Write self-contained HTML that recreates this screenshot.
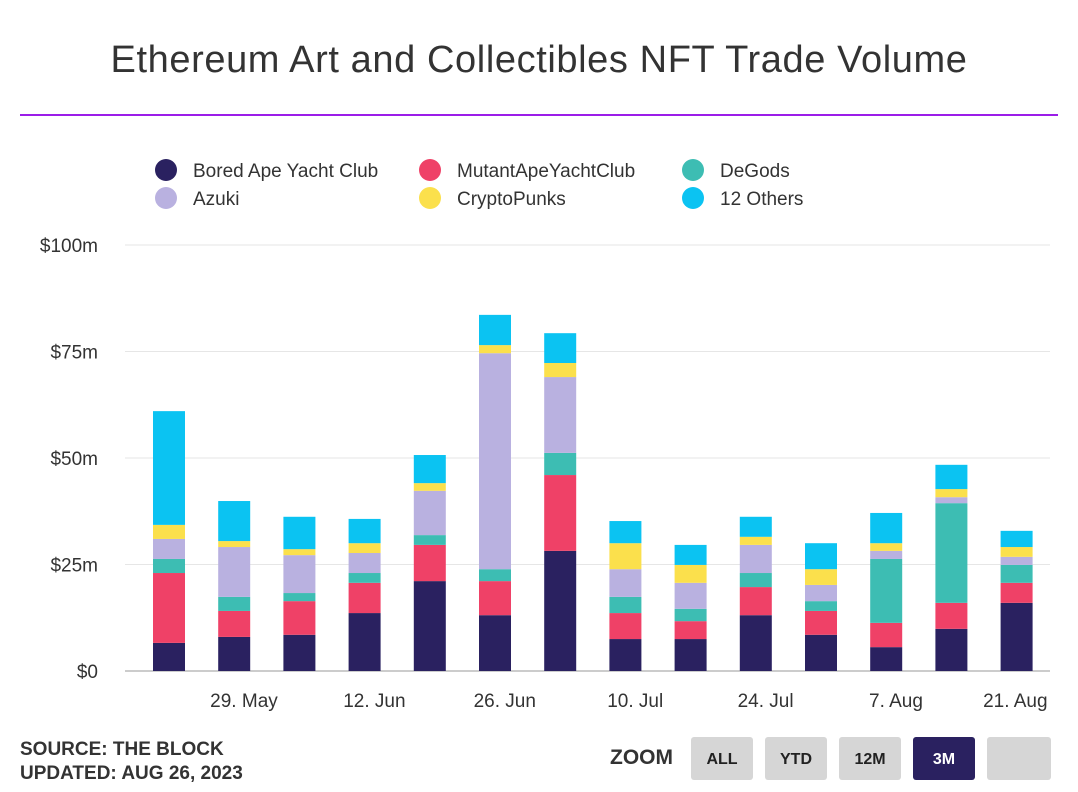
<!DOCTYPE html>
<html><head><meta charset="utf-8">
<style>
body{margin:0;width:1078px;height:792px;background:#fff;font-family:"Liberation Sans",sans-serif;overflow:hidden;position:relative}
.title{position:absolute;left:0;width:1078px;top:39px;text-align:center;font-size:38px;letter-spacing:0.6px;color:#333}
.rule{position:absolute;left:20px;width:1038px;top:114px;height:2px;background:#9b1de8}
.btn{position:absolute;top:737px;height:43px;border-radius:3px;background:#d6d6d6;font-weight:bold;font-size:16px;color:#222;text-align:center;line-height:46px}
</style></head><body>
<div class="title">Ethereum Art and Collectibles NFT Trade Volume</div>
<div class="rule"></div>
<svg id="chart" width="1078" height="792" style="position:absolute;left:0;top:0"></svg>
<div style="position:absolute;left:20px;top:738px;font-weight:bold;font-size:19px;color:#333;line-height:24px">SOURCE: THE BLOCK<br>UPDATED: AUG 26, 2023</div>
<div style="position:absolute;left:610px;top:746px;font-weight:bold;font-size:21px;color:#333">ZOOM</div>
<div class="btn" style="left:691px;width:62px">ALL</div>
<div class="btn" style="left:765px;width:62px">YTD</div>
<div class="btn" style="left:839px;width:62px">12M</div>
<div class="btn" style="left:913px;width:62px;background:#2a2160;color:#fff">3M</div>
<div class="btn" style="left:987px;width:64px"></div>
<script>
const seriesNames=["Bored Ape Yacht Club","MutantApeYachtClub","DeGods","Azuki","CryptoPunks","12 Others"];
const seriesColors=["#2a2160","#ef4167","#3dbdb3","#b9b1e0","#fbe04c","#0bc3f2"];
const bayc=[6.6,8.0,8.5,13.6,21.1,13.1,28.2,7.5,7.5,13.1,8.5,5.6,9.9,16.0];
const mayc=[16.4,6.1,7.9,7.1,8.5,8.0,17.8,6.1,4.2,6.6,5.6,5.7,6.1,4.7];
const degods=[3.3,3.3,1.9,2.3,2.3,2.8,5.2,3.8,2.9,3.3,2.3,15.0,23.4,4.2];
const azuki=[4.7,11.7,8.9,4.7,10.4,50.7,17.8,6.5,6.1,6.6,3.8,1.9,1.4,1.9];
const punks=[3.3,1.4,1.4,2.3,1.8,1.9,3.3,6.1,4.2,1.9,3.7,1.8,1.9,2.3];
const others=[26.7,9.4,7.6,5.7,6.6,7.1,7.0,5.2,4.7,4.7,6.1,7.1,5.7,3.8];
const yTicks=[0,25,50,75,100];
const yTickLabels=["$0","$25m","$50m","$75m","$100m"];
const xTickLabels=["29. May","12. Jun","26. Jun","10. Jul","24. Jul","7. Aug","21. Aug"];
const xTickIdx=[1.15,3.15,5.15,7.15,9.15,11.15,12.98];

const svg=document.getElementById('chart');
const NS='http://www.w3.org/2000/svg';
const y0=671,y100=245,xFirst=169,xStep=65.2,bw=32;
const yS=v=>y0-(y0-y100)*v/100;
const xS=i=>xFirst+i*xStep;
function mk(t,a){const e=document.createElementNS(NS,t);for(const k in a)e.setAttribute(k,a[k]);svg.appendChild(e);return e;}
yTicks.forEach((v,i)=>{
 const l=mk('line',{x1:125,x2:1050,y1:yS(v),y2:yS(v),stroke:i==0?'#999':'#e6e6e6','stroke-width':1});
 
 
 const t=mk('text',{x:98,y:yS(v)+7,'text-anchor':'end','font-size':19,fill:'#333','font-family':'Liberation Sans'});
 t.textContent=yTickLabels[i];
 
 
});
xTickLabels.forEach((s,i)=>{
 const t=mk('text',{x:xS(xTickIdx[i]),y:707,'text-anchor':'middle','font-size':19,fill:'#333','font-family':'Liberation Sans'});
 t.textContent=s;
 
 
});
const all=[bayc,mayc,degods,azuki,punks,others];
bayc.forEach((_,i)=>{
 let acc=0;
 all.forEach((s,k)=>{
  const r=mk('rect',{x:xS(i)-bw/2,y:yS(acc+s[i]),width:bw,height:yS(acc)-yS(acc+s[i]),fill:seriesColors[k]});
  
  
  acc+=s[i];
 });
});
const legPos=[[155,170],[419,170],[682,170],[155,198],[419,198],[682,198]];
const legOrder=[0,1,2,3,4,5];
legOrder.forEach((k,i)=>{
 const [lx,ly]=legPos[i];
 const c=mk('circle',{cx:lx+11,cy:ly,r:11,fill:seriesColors[k]});
 
 
 const t=mk('text',{x:lx+38,y:ly+7,'font-size':19,fill:'#333','font-family':'Liberation Sans'});
 t.textContent=seriesNames[k];
 
 
});
</script>
</body></html>
